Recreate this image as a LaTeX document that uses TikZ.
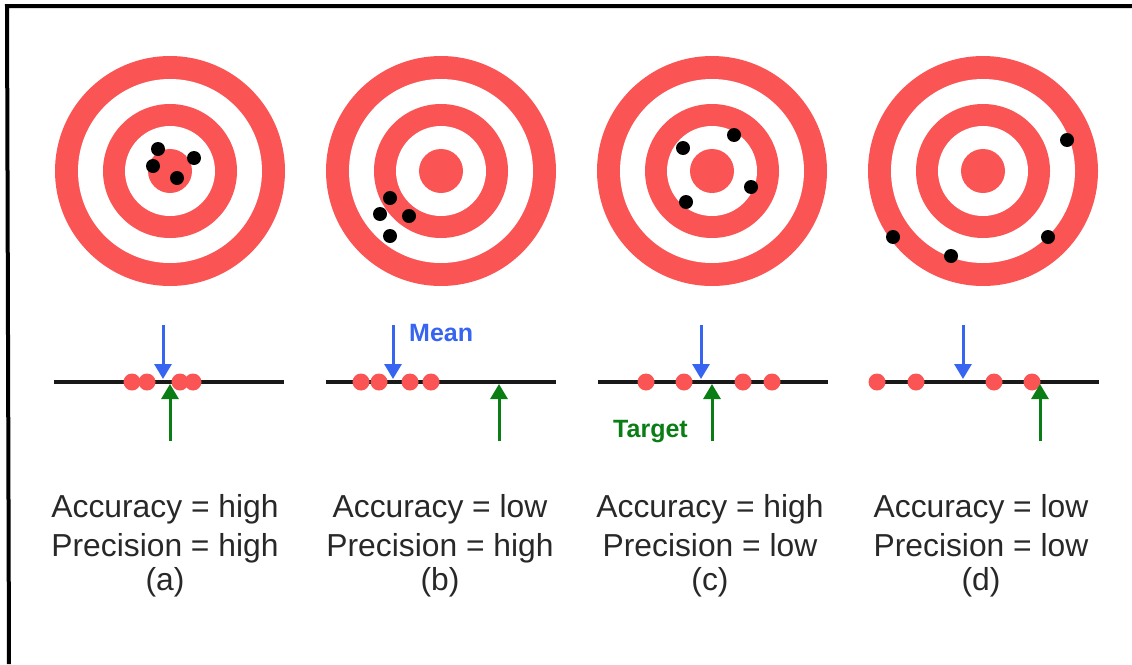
\documentclass[tikz,border=0pt]{standalone}
\usepackage{fontspec}
\setmainfont{Liberation Sans}
\usetikzlibrary{arrows.meta}
\definecolor{ring}{RGB}{250,84,84}
\definecolor{meanblue}{RGB}{55,100,240}
\definecolor{tgtgreen}{RGB}{10,125,20}
\definecolor{txt}{RGB}{40,40,40}
\begin{document}
\begin{tikzpicture}[x=1pt,y=-1pt,
  axis/.style={line width=3.5pt, black!90},
  frameline/.style={line width=4pt, black},
  meanarrow/.style={draw=meanblue, line width=3pt, -{Triangle[width=17pt,length=15pt]}},
  tgtarrow/.style={draw=tgtgreen, line width=3pt, -{Triangle[width=17pt,length=15pt]}},
  shot/.style={circle, fill=ring, inner sep=0pt, minimum size=17pt},
  hit/.style={fill=black},
  lbl/.style={font=\fontsize{31.8}{36}\selectfont, text=txt, inner sep=0pt, anchor=base},
  tag/.style={font=\bfseries\fontsize{25}{30}\selectfont, inner sep=0pt, anchor=base west},
]
\useasboundingbox (0,0) rectangle (1132,664);
% frame (top and left edges only)
\coordinate (fr0) at (9,664);
\coordinate (fr1) at (9,6);
\coordinate (fr2) at (1132,6);
\draw[frameline] (fr0) -- (7,6) -- (fr2);

% targets
\foreach \n/\cx in {a/170,b/441,c/712,d/983}{
  \coordinate (t\n) at (\cx,171);
  \fill[ring] (t\n) circle[radius=115pt];
  \fill[white] (t\n) circle[radius=92pt];
  \fill[ring] (t\n) circle[radius=67pt];
  \fill[white] (t\n) circle[radius=45pt];
  \fill[ring] (t\n) circle[radius=22pt];
}
% hits
\foreach \p in {(158,149),(153,166),(194,158),(177,178),
                (390,198),(380,214),(409,216),(390,236),
                (683,148),(734,135),(751,187),(686,202),
                (1067,140),(893,237),(951,256),(1048,237)}{
  \fill[hit] \p circle[radius=7pt];
}

% number lines
\foreach \n/\x in {a/54,b/326,c/598,d/869}{
  \coordinate (l\n0) at (\x,382);
  \coordinate (l\n1) at (\x+230,382);
  \draw[axis] (l\n0) -- (l\n1);
}
% measurements on the lines
\foreach \n/\xs in {a/{132,147,180,193},b/{361,379,410,431},c/{646,684,743,772},d/{877,916,994,1032}}{
  \foreach \x [count=\i] in \xs{
    \node[shot] (s\n\i) at (\x,382) {};
  }
}

% arrows: mean (blue) and target (green)
\foreach \n/\bx/\gx in {a/163/170,b/393/499,c/701/712,d/963/1040}{
  \coordinate (mt\n) at (\bx,325);
  \coordinate (mh\n) at (\bx,379);
  \coordinate (gt\n) at (\gx,441);
  \coordinate (gh\n) at (\gx,384);
  \draw[meanarrow] (mt\n) -- (mh\n);
  \draw[tgtarrow] (gt\n) -- (gh\n);
}
\node[tag, text=meanblue] (meanlbl) at (409,341) {Mean};
\node[tag, text=tgtgreen] (tgtlbl) at (613,437) {Target};

% captions
\node[lbl] (acca) at (165,517) {Accuracy = high};
\node[lbl] (preca) at (165,556) {Precision = high};
\node[lbl] (capa) at (165,590) {(a)};
\node[lbl] (accb) at (440,517) {Accuracy = low};
\node[lbl] (precb) at (440,556) {Precision = high};
\node[lbl] (capb) at (440,590) {(b)};
\node[lbl] (accc) at (710,517) {Accuracy = high};
\node[lbl] (precc) at (710,556) {Precision = low};
\node[lbl] (capc) at (710,590) {(c)};
\node[lbl] (accd) at (981,517) {Accuracy = low};
\node[lbl] (precd) at (981,556) {Precision = low};
\node[lbl] (capd) at (981,590) {(d)};
\end{tikzpicture}
\end{document}
